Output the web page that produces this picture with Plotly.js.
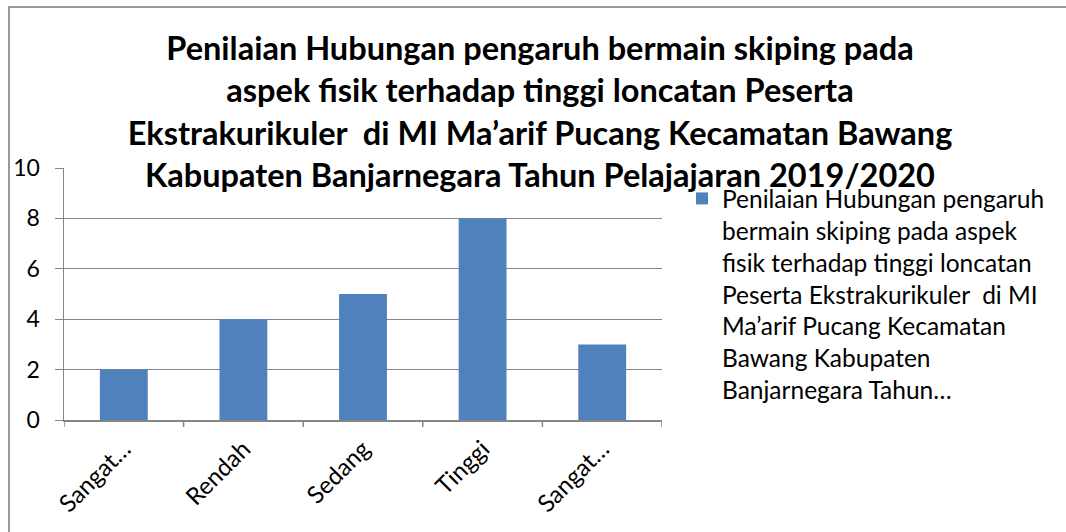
<!DOCTYPE html>
<html><head><meta charset="utf-8">
<script src="https://cdn.plot.ly/plotly-3.0.1.min.js"></script>
<style>html,body{margin:0;padding:0;background:#fff}#c{width:1066px;height:532px}</style>
</head><body><div id="c"></div>
<script>
const categories = ["Sangat…", "Rendah", "Sedang", "Tinggi", "Sangat…"];
const categoryIds = ["Sangat Rendah", "Rendah", "Sedang", "Tinggi", "Sangat Tinggi"];
const values = [2, 4, 5, 8, 3];
const seriesName = "Penilaian Hubungan pengaruh<br>bermain skiping pada aspek<br>fisik terhadap tinggi loncatan<br>Peserta Ekstrakurikuler  di MI<br>Ma’arif Pucang Kecamatan<br>Bawang Kabupaten<br>Banjarnegara Tahun…";
const titleText = "Penilaian Hubungan pengaruh bermain skiping pada<br>aspek fisik terhadap tinggi loncatan Peserta<br>Ekstrakurikuler  di MI Ma’arif Pucang Kecamatan Bawang<br>Kabupaten Banjarnegara Tahun Pelajajaran 2019/2020";
const yTicks = [0, 2, 4, 6, 8, 10];

const font = "Lato, 'Open Sans', sans-serif";
const trace = {
  type: 'bar', x: categoryIds, y: values, name: seriesName,
  marker: {color: '#4F81BD'}, width: 0.4, showlegend: true
};
const L = 64, R = 662, T = 168, B = 420;
const layout = {
  width: 1066, height: 532,
  margin: {l: L, r: 1066 - R, t: T, b: 532 - B},
  paper_bgcolor: '#fff', plot_bgcolor: '#fff',
  font: {family: font, color: '#000'},
  title: {text: titleText, font: {family: font, size: 32.5, weight: 'bold', color: '#000'},
          x: 540/1066, xanchor: 'center', y: 1 - 60/532, yanchor: 'top'},
  xaxis: {tickmode: 'array', tickvals: categoryIds, ticktext: categories, tickangle: -45,
          tickfont: {size: 24}, showgrid: false, showline: true, linecolor: '#868686', linewidth: 1.5,
          ticks: 'outside', ticklen: 0, ticklabelstandoff: 4, range: [-0.5, 4.5]},
  yaxis: {range: [0, 10], tickvals: yTicks, tickfont: {size: 23}, showgrid: true, gridcolor: '#868686',
          gridwidth: 1.2, showline: true, linecolor: '#868686', linewidth: 1.5, ticks: 'outside', ticklen: 8,
          ticklabelstandoff: 10, tickcolor: '#868686', zeroline: false, fixedrange: true},
  legend: {x: (682 - L)/(R - L), xanchor: 'left', y: (B - 176)/(B - T), yanchor: 'top',
           font: {size: 24.5, family: font}, valign: 'top', bgcolor: 'rgba(0,0,0,0)'},
  shapes: [
    {type: 'rect', xref: 'paper', yref: 'paper', x0: (9 - L)/(R - L), x1: (1120 - L)/(R - L),
     y0: (B - 580)/(B - T), y1: (B - 7)/(B - T), line: {color: '#999', width: 2}, fillcolor: 'rgba(0,0,0,0)', layer: 'below'}
  ].concat([-0.5, 0.5, 1.5, 2.5, 3.5, 4.5].map(v => ({type: 'line', xref: 'x', yref: 'paper', x0: v, x1: v,
     y0: 0, y1: -7/(B - T), line: {color: '#868686', width: 1.5}}))),
  bargap: 0.6
};
Plotly.newPlot('c', [trace], layout, {displayModeBar: false, staticPlot: true});
</script></body></html>
